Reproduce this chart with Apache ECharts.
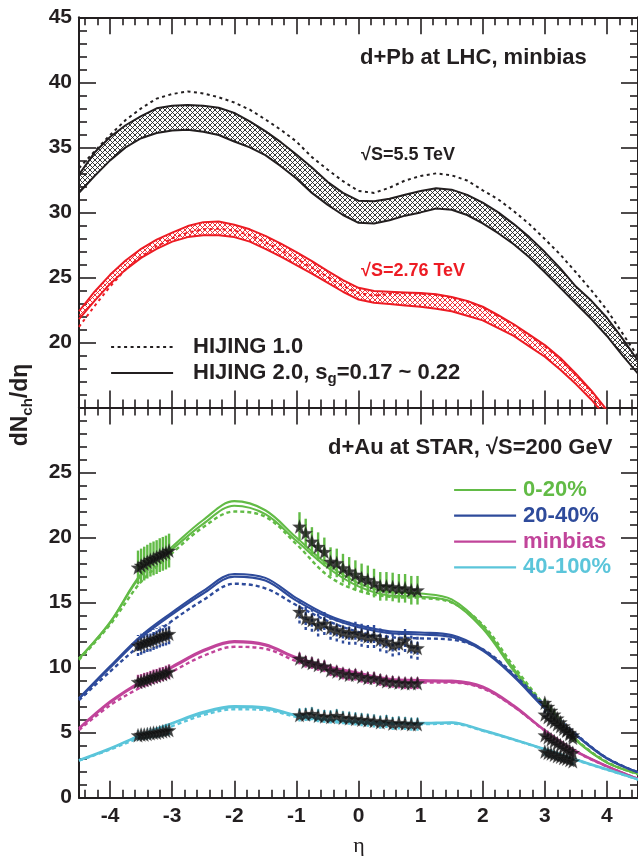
<!DOCTYPE html>
<html>
<head>
<meta charset="utf-8">
<title>dNch/deta, HIJING d+Pb / d+Au</title>
<script src="https://cdn.jsdelivr.net/npm/echarts@6/dist/echarts.min.js"></script>
<style>
  html, body { margin: 0; padding: 0; background: #fff; }
  #chart { width: 638px; height: 856px; }
</style>
</head>
<body>
<div id="chart"></div>
<script>
// ---- axis ticks ----
const xMajor = [-4, -3, -2, -1, 0, 1, 2, 3, 4]
const xMinor = [-4.4, -4.2, -3.8, -3.6, -3.4, -3.2, -2.8, -2.6, -2.4, -2.2, -1.8, -1.6, -1.4, -1.2,
  -0.8, -0.6, -0.4, -0.2, 0.2, 0.4, 0.6, 0.8, 1.2, 1.4, 1.6, 1.8, 2.2, 2.4, 2.6, 2.8,
  3.2, 3.4, 3.6, 3.8, 4.2, 4.4]

// ---- top panel: d+Pb at LHC (eta step 0.25) ----
const etaTop = [-4.5, -4.25, -4, -3.75, -3.5, -3.25, -3, -2.75, -2.5, -2.25, -2, -1.75, -1.5, -1.25,
  -1, -0.75, -0.5, -0.25, 0, 0.25, 0.5, 0.75, 1, 1.25, 1.5, 1.75, 2, 2.25, 2.5, 2.75,
  3, 3.25, 3.5, 3.75, 4, 4.25, 4.5]

const lhc55Hij1 = [33.4, 34.7, 35.95, 37.1, 38.0, 38.75, 39.1, 39.3, 39.15, 38.85, 38.45, 37.9, 37.15, 36.35,
  35.45, 34.25, 33.3, 32.4, 31.65, 31.5, 31.9, 32.45, 32.8, 33.0, 32.85, 32.45, 31.7, 31.0, 30.1, 29.1,
  27.95, 26.75, 25.4, 24.0, 22.5, 20.7, 18.9]
const lhc55Hi = [32.9, 34.6, 35.8, 36.7, 37.4, 38.0, 38.2, 38.25, 38.2, 38.05, 37.65, 37.0, 36.25, 35.4,
  34.45, 33.45, 32.35, 31.5, 30.9, 30.85, 31.05, 31.35, 31.65, 31.85, 31.75, 31.35, 30.75, 30.0, 29.1, 28.1,
  26.95, 25.7, 24.3, 23.2, 21.9, 20.3, 18.6]
const lhc55Lo = [31.5, 32.8, 34.0, 35.0, 35.7, 36.1, 36.3, 36.35, 36.2, 35.95, 35.45, 35.0, 34.4, 33.55,
  32.6, 31.5, 30.6, 29.8, 29.2, 29.15, 29.4, 29.75, 30.0, 30.3, 30.2, 29.8, 29.15, 28.4, 27.55, 26.55,
  25.4, 24.2, 23.0, 21.8, 20.5, 19.0, 17.6]

const lhc276Hij1 = [21.2, 22.8, 24.3, 25.6, 26.6, 27.4, 28.0, 28.45, 28.7, 28.75, 28.6, 28.25, 27.7, 27.1,
  26.45, 25.75, 25.05, 24.35, 23.8, 23.6, 23.75, 23.8, 23.75, 23.65, 23.45, 23.15, 22.7, 22.05, 21.35, 20.55,
  19.7, 18.7, 17.5, 16.2, 14.7, 13.1, 11.4]
const lhc276Hi = [22.4, 23.9, 25.2, 26.3, 27.2, 27.9, 28.45, 28.95, 29.25, 29.3, 29.05, 28.7, 28.2, 27.6,
  26.95, 26.25, 25.5, 24.8, 24.2, 23.95, 23.9, 23.85, 23.8, 23.7, 23.5, 23.2, 22.75, 22.1, 21.4, 20.6,
  19.8, 18.8, 17.6, 16.3, 14.8, 13.2, 11.5]
const lhc276Lo = [21.8, 23.2, 24.5, 25.6, 26.5, 27.2, 27.75, 28.1, 28.25, 28.25, 28.1, 27.75, 27.2, 26.6,
  25.95, 25.3, 24.6, 23.9, 23.3, 23.05, 22.95, 22.85, 22.75, 22.6, 22.4, 22.05, 21.7, 21.1, 20.5, 19.7,
  18.9, 17.9, 16.8, 15.6, 14.2, 12.6, 11.0]

// ---- bottom panel: d+Au at STAR (eta step 0.5) ----
const etaBot = [-4.5, -4, -3.5, -3, -2.5, -2, -1.5, -1, -0.5, 0, 0.5, 1, 1.5, 2, 2.5, 3, 3.5, 4, 4.5]

const c020Hi = [10.7, 13.5, 17.2, 19.3, 21.35, 22.8, 22.1, 20.0, 17.95, 16.5, 15.8, 15.7, 15.25, 13.2, 9.9, 6.95, 4.45, 2.7, 1.85]
const c020Lo = [10.7, 13.45, 17.1, 19.1, 21.05, 22.45, 21.8, 19.75, 17.7, 16.25, 15.55, 15.45, 15.05, 13.0, 9.75, 6.85, 4.4, 2.7, 1.85]
const c020Hij1 = [10.6, 13.3, 16.6, 18.8, 20.8, 22.0, 21.6, 19.5, 17.1, 15.9, 15.45, 15.35, 15.0, 13.3, 10.1, 7.1, 4.5, 2.75, 1.8]

const c2040Hi = [7.65, 10.1, 12.45, 14.25, 15.9, 17.2, 16.9, 15.35, 14.05, 13.25, 12.8, 12.7, 12.5, 11.4, 9.4, 6.95, 4.85, 3.05, 1.95]
const c2040Lo = [7.6, 10.0, 12.3, 14.1, 15.7, 17.0, 16.7, 15.15, 13.9, 13.1, 12.65, 12.55, 12.35, 11.3, 9.3, 6.85, 4.8, 3.0, 1.95]
const c2040Hij1 = [7.5, 9.7, 11.8, 13.6, 15.2, 16.45, 16.1, 14.8, 13.6, 12.75, 12.35, 12.25, 12.15, 11.4, 9.5, 7.1, 4.9, 3.05, 1.95]

const cminHi = [5.35, 7.4, 8.95, 10.1, 11.35, 12.05, 11.8, 10.8, 10.1, 9.6, 9.15, 9.05, 9.0, 8.55, 7.1, 5.2, 3.6, 2.45, 1.45]
const cminLo = [5.3, 7.3, 8.85, 10.0, 11.25, 11.95, 11.7, 10.7, 10.0, 9.5, 9.05, 8.95, 8.9, 8.45, 7.0, 5.15, 3.55, 2.4, 1.45]
const cminHij1 = [5.2, 7.1, 8.5, 9.7, 10.9, 11.6, 11.45, 10.5, 9.85, 9.35, 8.95, 8.85, 8.85, 8.4, 7.0, 5.15, 3.55, 2.4, 1.45]

const c40100Hi = [2.9, 3.8, 4.85, 5.75, 6.6, 7.05, 6.95, 6.35, 6.0, 5.85, 5.75, 5.75, 5.8, 5.2, 4.5, 3.75, 2.95, 2.2, 1.4]
const c40100Lo = [2.85, 3.75, 4.8, 5.7, 6.5, 6.95, 6.85, 6.3, 5.95, 5.8, 5.7, 5.7, 5.75, 5.15, 4.45, 3.7, 2.9, 2.15, 1.4]
const c40100Hij1 = [2.85, 3.7, 4.65, 5.5, 6.35, 6.8, 6.75, 6.2, 5.85, 5.7, 5.65, 5.65, 5.7, 5.15, 4.45, 3.7, 2.9, 2.15, 1.4]

// ---- STAR data points ----
const etaBack = [-3.55, -3.5, -3.45, -3.4, -3.35, -3.3, -3.25, -3.2, -3.15, -3.1, -3.05]
const etaMid = [-0.95, -0.85, -0.75, -0.65, -0.55, -0.45, -0.35, -0.25, -0.15, -0.05,
  0.05, 0.15, 0.25, 0.35, 0.45, 0.55, 0.65, 0.75, 0.85, 0.95]
const etaFwd = [3.0, 3.05, 3.1, 3.15, 3.2, 3.25, 3.3, 3.35, 3.4, 3.45]

const star020Back = [17.7, 17.85, 18.0, 18.15, 18.3, 18.4, 18.5, 18.65, 18.75, 18.85, 19.0]
const star020Mid = [20.85, 20.35, 19.7, 19.3, 18.9, 18.15, 18.05, 17.65, 17.4, 17.15, 16.9, 16.75, 16.5, 16.25, 16.25, 16.2, 16.1, 16.1, 15.95, 15.95]
const star020Fwd = [7.3, 7.0, 6.7, 6.4, 6.1, 5.8, 5.5, 5.2, 4.9, 4.6]

const star2040Back = [11.7, 11.8, 11.9, 12.0, 12.05, 12.15, 12.25, 12.35, 12.45, 12.5, 12.6]
const star2040Mid = [14.3, 13.8, 13.65, 13.3, 13.4, 13.05, 12.9, 12.75, 12.65, 12.65, 12.5, 12.4, 12.4, 12.15, 12.0, 11.75, 11.85, 12.1, 11.6, 11.5]
const star2040Fwd = [6.4, 6.2, 6.0, 5.85, 5.65, 5.5, 5.3, 5.15, 5.0, 4.8]

const starMinBack = [8.9, 8.95, 9.05, 9.1, 9.2, 9.3, 9.35, 9.45, 9.5, 9.6, 9.7]
const starMinMid = [10.7, 10.45, 10.35, 10.2, 10.1, 9.8, 9.7, 9.55, 9.45, 9.45, 9.3, 9.2, 9.2, 9.05, 8.95, 8.9, 8.85, 8.8, 8.8, 8.8]
const starMinFwd = [4.8, 4.65, 4.5, 4.35, 4.2, 4.05, 3.9, 3.75, 3.6, 3.45]

const star40100Back = [4.8, 4.85, 4.85, 4.9, 4.95, 5.0, 5.0, 5.05, 5.1, 5.15, 5.2]
const star40100Mid = [6.35, 6.4, 6.45, 6.3, 6.25, 6.2, 6.3, 6.15, 6.1, 6.05, 6.0, 5.95, 5.9, 5.8, 5.85, 5.7, 5.75, 5.7, 5.65, 5.65]
const star40100Fwd = [3.55, 3.45, 3.4, 3.3, 3.2, 3.15, 3.05, 3.0, 2.9, 2.8]

// error bar half-lengths per centrality: [backward, mid, forward]
const err020 = [1.3, 1.1, 0.3]
const err2040 = [0.8, 0.9, 0.3]
const errMin = [0.55, 0.45, 0.3]
const err40100 = [0.4, 0.5, 0.3]

const BLACK = '#231f20'
const RED = '#ed1c24'
const GREEN = '#62bb46'
const BLUE = '#2e4b9b'
const MAGENTA = '#c1449a'
const CYAN = '#5bc5da'
const FONT = 'Liberation Sans'
const STAR = 'path://M0,-10 L2.35,-3.24 L9.51,-3.09 L3.8,1.24 L5.88,8.09 L0,4 L-5.88,8.09 L-3.8,1.24 L-9.51,-3.09 L-2.35,-3.24 Z'

// cross-hatch fill for the HIJING 2.0 bands
function hatch(color) {
  const c = document.createElement('canvas')
  c.width = 5
  c.height = 5
  const g = c.getContext('2d')
  g.strokeStyle = color
  g.lineWidth = 0.9
  g.beginPath()
  g.moveTo(0, 0); g.lineTo(5, 5)
  g.moveTo(5, 0); g.lineTo(0, 5)
  g.stroke()
  return { image: c, repeat: 'repeat' }
}

const pairs = (xs, ys) => xs.map((x, i) => [x, ys[i]])

function band(xs, lo, hi, color) {
  const fill = hatch(color)
  return {
    type: 'custom', xAxisIndex: 0, yAxisIndex: 0, clip: true, silent: true, z: 1,
    data: [[xs[0], lo[0]]],
    renderItem: (params, api) => {
      const pts = xs.map((x, i) => api.coord([x, hi[i]]))
      for (let i = xs.length - 1; i >= 0; i--) pts.push(api.coord([xs[i], lo[i]]))
      return { type: 'polygon', shape: { points: pts }, style: { fill: fill, stroke: null } }
    }
  }
}

function line(name, xs, ys, color, opts) {
  opts = opts || {}
  return {
    name: name, type: 'line', symbol: 'none', silent: true, z: 3,
    xAxisIndex: opts.bottom ? 2 : 0, yAxisIndex: opts.bottom ? 2 : 0,
    smooth: opts.smooth || false,
    data: pairs(xs, ys),
    lineStyle: { color: color, width: opts.width || 2, type: opts.dash ? opts.dash : 'solid' },
    itemStyle: { color: color }
  }
}

function errBars(xs, ys, e, color, dash) {
  return {
    type: 'custom', xAxisIndex: 2, yAxisIndex: 2, silent: true, z: 4,
    data: xs.map((x, i) => [x, ys[i], e]),
    renderItem: (params, api) => {
      const p0 = api.coord([api.value(0), api.value(1) - api.value(2)])
      const p1 = api.coord([api.value(0), api.value(1) + api.value(2)])
      return {
        type: 'line',
        shape: { x1: p0[0], y1: p0[1], x2: p1[0], y2: p1[1] },
        style: { stroke: color, lineWidth: 2.4, lineDash: dash || null }
      }
    }
  }
}

function stars(xs, ys) {
  return {
    type: 'scatter', xAxisIndex: 2, yAxisIndex: 2, silent: true, z: 6,
    symbol: STAR, symbolSize: 14,
    itemStyle: { color: '#111', borderColor: '#444', borderWidth: 0.3 },
    data: pairs(xs, ys)
  }
}

function centrality(name, hi, lo, hij1, back, mid, fwd, err, color, dash) {
  return [
    line(name + ' HIJING 1.0', etaBot, hij1, color, { bottom: true, smooth: 0.35, dash: [4, 3], width: 2.4 }),
    line(name, etaBot, hi, color, { bottom: true, smooth: 0.35, width: 2.1 }),
    line(name, etaBot, lo, color, { bottom: true, smooth: 0.35, width: 2.1 }),
    errBars(etaBack, back, err[0], color, dash),
    errBars(etaMid, mid, err[1], color, dash),
    errBars(etaFwd, fwd, err[2], color, dash),
    stars(etaBack, back),
    stars(etaMid, mid),
    stars(etaFwd, fwd)
  ]
}

const chart = echarts.init(document.getElementById('chart'), null, { renderer: 'canvas' })

const tickLine = { color: BLACK, width: 1.6 }
const gridTop = { left: 79, width: 561.5, top: 17.3, height: 390.2 }
const gridBot = { left: 79, width: 561.5, top: 407.5, height: 390.2 }

function xAx(grid, pos, values, len, labels, line) {
  return {
    type: 'value', gridIndex: grid, position: pos, min: -4.5, max: 4.5,
    axisLine: { show: line, onZero: false, lineStyle: { color: BLACK, width: 2 } },
    axisTick: { show: true, inside: true, length: len, lineStyle: tickLine, customValues: values },
    axisLabel: labels
      ? { show: true, customValues: xMajor, margin: 8, fontFamily: FONT, fontWeight: 'bold', fontSize: 21, color: BLACK }
      : { show: false },
    splitLine: { show: false }
  }
}

function yAx(grid, pos, min, max, labels, hideMin) {
  return {
    type: 'value', gridIndex: grid, position: pos, min: min, max: max, interval: 5,
    axisLine: { show: true, onZero: false, lineStyle: { color: BLACK, width: 2 } },
    axisTick: { show: true, inside: true, length: 17, lineStyle: tickLine },
    minorTick: { show: true, splitNumber: 5, length: 8, lineStyle: tickLine },
    axisLabel: labels
      ? { show: true, margin: 7, fontFamily: FONT, fontWeight: 'bold', fontSize: 21, color: BLACK,
          showMinLabel: !hideMin, showMaxLabel: hideMin }
      : { show: false },
    splitLine: { show: false }
  }
}

const hidY = g => ({ type: 'value', gridIndex: g, show: false, min: 0, max: 1 })

function legendItem(name, left, top, width, pad, color, rich) {
  return {
    orient: 'vertical', left: left, top: top, padding: 0, selectedMode: false,
    itemWidth: width, itemHeight: 14,
    itemStyle: { opacity: 0, borderWidth: 0 },
    lineStyle: { width: 2.2 },
    data: [{ name: name, textStyle: { color: color } }],
    formatter: rich ? () => rich : undefined,
    textStyle: {
      fontFamily: FONT, fontWeight: 'bold', fontSize: 22, color: color, padding: [0, 0, 0, pad],
      rich: {
        t: { fontFamily: FONT, fontWeight: 'bold', fontSize: 22, color: color },
        s: { fontFamily: FONT, fontWeight: 'bold', fontSize: 15, color: color, padding: [12, 0, 0, 0] }
      }
    }
  }
}

const option = {
  backgroundColor: '#fff',
  animation: false,
  grid: [gridTop, gridBot, gridTop, gridBot],
  xAxis: [
    xAx(0, 'bottom', xMajor, 17, false, true),
    xAx(0, 'top', xMajor, 17, false, true),
    xAx(1, 'bottom', xMajor, 17, true, true),
    xAx(1, 'top', xMajor, 17, false, true),
    xAx(2, 'bottom', xMinor, 8, false, false),
    xAx(2, 'top', xMinor, 8, false, false),
    xAx(3, 'bottom', xMinor, 8, false, false),
    xAx(3, 'top', xMinor, 8, false, false)
  ],
  yAxis: [
    yAx(0, 'left', 15, 45, true, true),
    yAx(0, 'right', 15, 45, false),
    yAx(1, 'left', 0, 30, true, false),
    yAx(1, 'right', 0, 30, false),
    hidY(2),
    hidY(3)
  ],
  legend: [
    legendItem('HIJING 1.0', 110, 336, 62, 15, BLACK),
    legendItem('HIJING 2.0', 110, 362, 62, 15, BLACK, '{t|HIJING 2.0, s}{s|g}{t|=0.17 ~ 0.22}'),
    legendItem('0-20%', 453, 479, 62, 2, GREEN),
    legendItem('20-40%', 453, 504.7, 62, 2, BLUE),
    legendItem('minbias', 453, 530.7, 62, 2, MAGENTA),
    legendItem('40-100%', 453, 556.3, 62, 2, CYAN)
  ],
  graphic: {
    elements: [
      { type: 'text', x: 360, y: 58, silent: true,
        style: { text: 'd+Pb at LHC, minbias', fill: BLACK, font: 'bold 22px ' + FONT, verticalAlign: 'middle' } },
      { type: 'text', x: 361, y: 155, silent: true,
        style: { text: '√S=5.5 TeV', fill: BLACK, font: 'bold 18px ' + FONT, verticalAlign: 'middle' } },
      { type: 'text', x: 361, y: 271, silent: true,
        style: { text: '√S=2.76 TeV', fill: RED, font: 'bold 18px ' + FONT, verticalAlign: 'middle' } },
      { type: 'text', x: 328, y: 448, silent: true,
        style: { text: 'd+Au at STAR, √S=200 GeV', fill: BLACK, font: 'bold 22px ' + FONT, verticalAlign: 'middle' } },
      { type: 'text', x: 359, y: 846, silent: true,
        style: { text: 'η', fill: BLACK, font: '22px Liberation Serif', align: 'center', verticalAlign: 'middle' } },
      { type: 'text', x: 21, y: 405, rotation: Math.PI / 2, silent: true,
        style: {
          text: '{a|dN}{b|ch}{a|/dη}', fill: BLACK, align: 'center', verticalAlign: 'middle',
          rich: {
            a: { fontFamily: FONT, fontWeight: 'bold', fontSize: 23, fill: BLACK },
            b: { fontFamily: FONT, fontWeight: 'bold', fontSize: 15, fill: BLACK, padding: [13, 0, 0, 0] }
          }
        } }
    ]
  },
  series: [
    band(etaTop, lhc55Lo, lhc55Hi, '#222'),
    band(etaTop, lhc276Lo, lhc276Hi, RED),
    line('HIJING 2.0', etaTop, lhc55Hi, BLACK),
    line('HIJING 2.0', etaTop, lhc55Lo, BLACK),
    line('HIJING 1.0', etaTop, lhc55Hij1, BLACK, { dash: [3, 3.5] }),
    line('red HIJING 2.0', etaTop, lhc276Hi, RED),
    line('red HIJING 2.0', etaTop, lhc276Lo, RED),
    line('red HIJING 1.0', etaTop, lhc276Hij1, RED, { dash: [3, 3.5] }),
    ...centrality('0-20%', c020Hi, c020Lo, c020Hij1, star020Back, star020Mid, star020Fwd, err020, GREEN, null),
    ...centrality('20-40%', c2040Hi, c2040Lo, c2040Hij1, star2040Back, star2040Mid, star2040Fwd, err2040, BLUE, [3, 2]),
    ...centrality('minbias', cminHi, cminLo, cminHij1, starMinBack, starMinMid, starMinFwd, errMin, MAGENTA, null),
    ...centrality('40-100%', c40100Hi, c40100Lo, c40100Hij1, star40100Back, star40100Mid, star40100Fwd, err40100, CYAN, [3, 2])
  ]
}

chart.setOption(option)
</script>
</body>
</html>
